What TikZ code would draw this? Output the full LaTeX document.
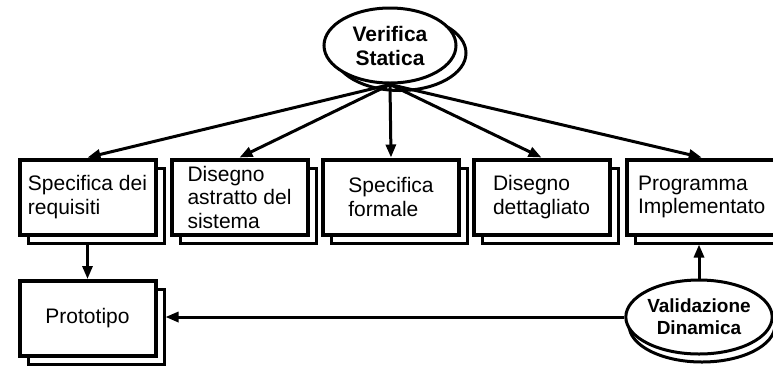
\documentclass[tikz,border=0pt]{standalone}
\usepackage{fontspec}
\setmainfont{Liberation Sans}
\usetikzlibrary{shapes.geometric,arrows.meta}
\begin{document}
\begin{tikzpicture}[x=1pt,y=-1pt,
  stage/.style={draw, rectangle, line width=4pt, fill=white,
    minimum width=136pt, minimum height=75pt, inner sep=0pt,
    align=left, font=\fontsize{21}{23.5}\selectfont},
  stageshadow/.style={draw, rectangle, line width=3pt, fill=white,
    minimum width=136pt, minimum height=75pt, inner sep=0pt},
  check/.style={draw, ellipse, line width=3pt, fill=white,
    inner sep=0pt, align=center},
  flow/.style={line width=3pt, -{Triangle[length=13pt,width=10pt]}}
]
\useasboundingbox (0,0) rectangle (773,365);
\clip (0,0) rectangle (773,365);

% static verification ellipse (stacked)
\node[check, minimum width=132pt, minimum height=75pt] (vsb) at (400,53) {};
\node[check, minimum width=132pt, minimum height=75pt,
  font=\bfseries\fontsize{21}{24}\selectfont] (vs) at (390,45.5) {Verifica\\Statica};

% development stages, each with a stacked copy behind it
\node[stageshadow] (s1) at (96,205.5) {};
\node[stage] (b1) at (87.5,197) {Specifica dei\\requisiti};
\node[stageshadow] (s2) at (248,205.5) {};
\node[stage] (b2) at (239.5,197) {Disegno\\astratto del\\sistema};
\node[stageshadow] (s3) at (399.5,205.5) {};
\node[stage] (b3) at (391,197) {Specifica\\formale};
\node[stageshadow] (s4) at (550,205.5) {};
\node[stage] (b4) at (541.5,197) {Disegno\\dettagliato};
\node[stageshadow, minimum width=150pt] (s5) at (710.25,205.5) {};
\node[stage, minimum width=150pt] (b5) at (701.75,197) {Programma\\Implementato};

% prototype
\node[stageshadow] (sp) at (96,327) {};
\node[stage] (p) at (87.5,318.5) {Prototipo};

% dynamic validation ellipse (stacked)
\node[check, minimum width=146pt, minimum height=74pt] (vdb) at (702,325) {};
\node[check, minimum width=146pt, minimum height=74pt,
  font=\bfseries\fontsize{19}{22}\selectfont] (vd) at (699,317) {Validazione\\Dinamica};

% connectors
\draw[flow] (vs.south) -- (b1.north);
\draw[flow] (vs.south) -- (b2.north);
\draw[flow] (vs.south) -- (b3.north);
\draw[flow] (vs.south) -- (b4.north);
\draw[flow] (vs.south) -- (b5.north);
\draw[flow] (b1.south |- s1.south) -- (p.north);
\draw[flow] (vd.north) -- (vd.north |- s5.south);
\draw[flow] (vd.west) -- (vd.west -| sp.east);
\end{tikzpicture}
\end{document}
